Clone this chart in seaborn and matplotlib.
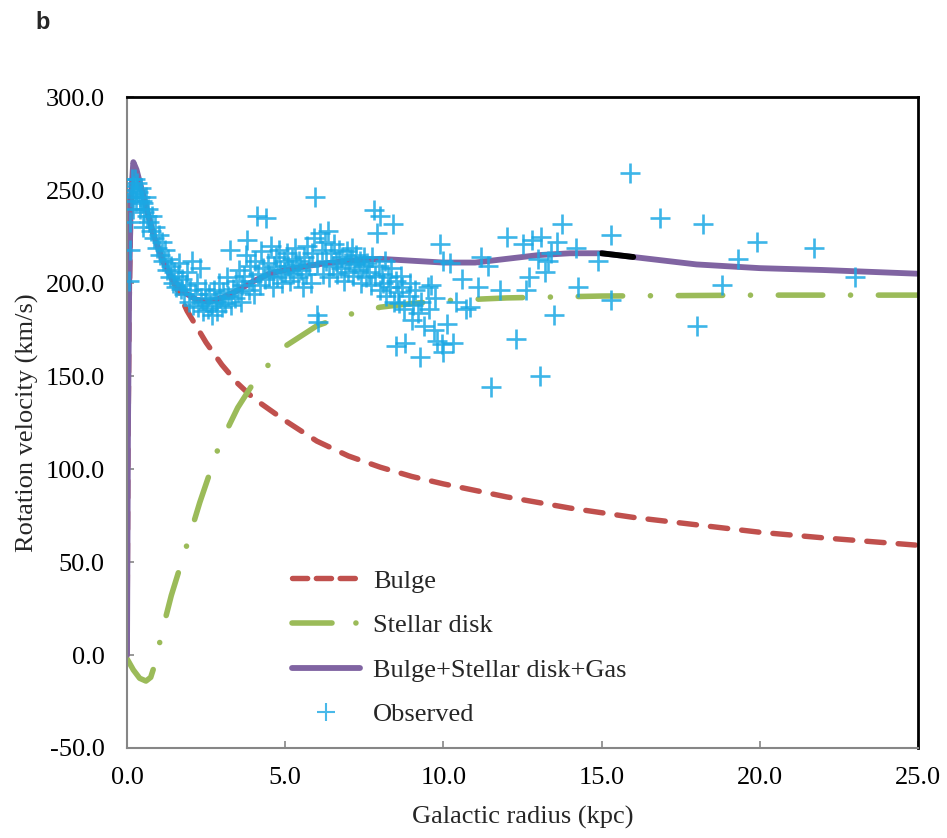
import matplotlib
matplotlib.use("Agg")
import matplotlib.pyplot as plt
import seaborn as sns
from matplotlib.lines import Line2D

# ─────────────────────────────────────────
# DATA
# ─────────────────────────────────────────
bulge_r = [0.0, 0.03, 0.07, 0.12, 0.2, 0.3, 0.5, 0.8, 1.0, 1.3, 1.6, 1.9, 2.5, 3.0, 3.5,
           4.0, 5.0, 6.0, 7.0, 8.0, 9.0, 10.0, 12.0, 14.0, 16.0, 18.0, 20.0, 22.0, 25.0]
bulge_v = [0.0, 110, 190, 240, 260, 258, 248, 228, 218, 206, 196, 185, 168, 156, 146,
           138, 126, 115, 107, 101, 96, 92, 85, 79, 74, 70, 66, 63, 59]

disk_r = [0.0, 0.2, 0.4, 0.6, 0.75, 0.9, 1.1, 1.4, 1.8, 2.3, 2.9, 3.5, 4.1, 5.0,
          6.0, 7.0, 8.0, 9.0, 10.0, 12.0, 15.0, 20.0, 25.0]
disk_v = [-2, -8, -12.5, -14, -12, -4, 12, 32, 54, 82, 112, 133, 149, 166,
          177, 183, 187, 189, 190.5, 192, 193, 193.5, 193.5]

total_r = [0.0, 0.03, 0.07, 0.12, 0.2, 0.3, 0.5, 0.8, 1.1, 1.4, 1.8, 2.2, 2.6, 3.0, 3.5,
           4.0, 4.5, 5.0, 6.0, 7.0, 8.0, 9.0, 10.0, 11.0, 12.0, 13.0, 14.0, 15.0, 16.0,
           17.0, 18.0, 19.0, 20.0, 22.0, 25.0]
total_v = [0.0, 120, 200, 245, 265, 261, 248, 228, 213, 203, 195, 191, 190, 192, 196,
           201, 205, 207, 210, 212, 213, 212, 211, 211, 213, 215, 216, 216, 214,
           212, 210, 209, 208, 207, 205]

obs_r = [0.05, 0.08, 0.1, 0.12, 0.15, 0.2, 0.22, 0.25, 0.28, 0.3, 0.18,
         0.33, 0.36, 0.4, 0.42, 0.45, 0.48, 0.5, 0.52, 0.55, 0.6, 0.62, 0.66, 0.7,
         0.75, 0.8, 0.85, 0.9, 0.95, 1.0, 1.05, 1.1, 1.15, 1.2,
         1.25, 1.3, 1.35, 1.4, 1.45, 1.5, 1.55, 1.6, 1.65, 1.7, 1.75, 1.8,
         1.85, 1.9, 1.95, 2.0, 2.05, 2.1, 2.15, 2.2, 2.25, 2.3, 2.35, 2.4, 2.45, 2.5, 2.55, 2.6,
         2.65, 2.7, 2.75, 2.8, 2.85, 2.9, 2.95, 3.0, 3.05, 3.1, 3.15, 3.2, 3.25, 3.3, 3.35,
         3.4, 3.45, 3.5, 3.55, 3.6, 3.65, 3.7, 3.75, 3.8, 3.85, 3.9, 3.95, 4.0, 4.05, 4.1,
         4.15, 4.2, 4.25, 4.3, 4.35, 4.4,
         4.45, 4.5, 4.55, 4.6, 4.65, 4.7, 4.75, 4.8, 4.85, 4.9, 4.95, 5.0, 5.05, 5.1, 5.15,
         5.2, 5.25, 5.3, 5.35, 5.4, 5.45, 5.5, 5.55,
         5.6, 5.65, 5.7, 5.75, 5.8, 5.85, 5.9, 5.95, 6.0, 6.02, 6.05, 6.1, 6.15, 6.2, 6.25,
         6.3, 6.35, 6.4, 6.45, 6.5, 6.55,
         6.6, 6.65, 6.7, 6.75, 6.8, 6.85, 6.9, 6.95, 7.0, 7.05, 7.1, 7.15, 7.2, 7.25, 7.3,
         7.35, 7.4, 7.45, 7.5, 7.55,
         7.6, 7.65, 7.7, 7.75, 7.8, 7.85, 7.9, 7.95, 8.0, 8.0, 8.05, 8.1, 8.15, 8.2, 8.25,
         8.3, 8.35, 8.4, 8.45, 8.5,
         8.55, 8.6, 8.65, 8.7, 8.75, 8.8, 8.5, 8.9, 8.95, 9.0, 9.05, 9.1, 9.2, 9.26, 9.3,
         9.4, 9.5, 9.55, 9.6, 9.7, 9.75, 9.8, 9.9, 9.95, 10.0, 10.0, 10.1, 10.2, 10.3, 10.4,
         10.6, 10.7, 10.85, 11.1, 11.2, 11.4, 11.5,
         11.8, 12.0, 12.3, 12.5, 12.6, 12.7, 12.8, 13.0, 13.05, 13.1, 13.2, 13.3, 13.4, 13.5,
         13.6, 13.75, 14.2, 14.25, 14.9, 15.3, 15.3, 15.9,
         16.85, 18.0, 18.2, 18.8, 19.3, 19.9, 21.7, 23.0]
obs_v = [201, 218, 233, 246, 256, 252, 248, 256, 250, 244, 240,
         254, 249, 246, 240, 251, 244, 230, 243, 238, 246, 236, 240, 233,
         228, 236, 224, 230, 219, 226, 215, 222, 212, 218,
         207, 213, 203, 209, 200, 206, 198, 204, 211, 197, 202, 194,
         199, 206, 190, 196, 212, 188, 194, 200, 187, 208, 192, 185, 197, 190, 186, 194,
         188, 183, 196, 190, 185, 200, 192, 187, 195, 189, 203, 193, 218, 188, 197,
         192, 201, 195, 207, 190, 199, 204, 215, 223, 196, 209, 201, 194, 212, 236,
         205, 199, 217, 208, 202, 235,
         211, 204, 220, 198, 209, 214, 203, 218, 207, 200, 212, 206, 216, 209, 201,
         213, 205, 219, 210, 203, 212, 207, 198,
         214, 205, 220, 209, 200, 216, 224, 246, 211, 183, 179, 227, 218, 205, 222,
         212, 228, 203, 216, 209, 221,
         212, 205, 218, 208, 214, 201, 211, 217, 206, 213, 219, 204, 210, 215, 207,
         212, 200, 209, 214, 203,
         211, 206, 199, 214, 239, 204, 227, 209, 236, 196, 205, 200, 212, 193, 203,
         198, 208, 232, 190, 201,
         195, 189, 204, 198, 186, 168, 166, 193, 200, 180, 188, 196, 184, 160, 190,
         177, 198, 186, 199, 175, 192, 169, 221, 167, 163, 212, 178, 211, 168, 190,
         202, 186, 187, 198, 214, 209, 144,
         196, 225, 170, 221, 196, 203, 223, 213, 150, 225, 206, 212, 216, 183,
         222, 232, 219, 198, 212, 226, 191, 259,
         235, 177, 232, 199, 213, 222, 219, 203]

# short black piece on the total curve
black_r = [15.0, 16.0]
black_v = [216, 214]

x_ticks = [0, 5, 10, 15, 20, 25]
y_ticks = [-50, 0, 50, 100, 150, 200, 250, 300]

# ─────────────────────────────────────────
# STYLE
# ─────────────────────────────────────────
sns.set_theme(style="white")
plt.rcParams["font.family"] = ["Liberation Serif", "DejaVu Serif"]
plt.rcParams["axes.unicode_minus"] = False

c_bulge = "#C0504D"
c_disk = "#9BBB59"
c_total = "#8064A2"
c_obs = "#1BA8E4"

fig = plt.figure(figsize=(9.47, 8.38), dpi=100)
ax = fig.add_axes([0.1341, 0.1074, 0.8353, 0.7768])

sns.lineplot(x=bulge_r, y=bulge_v, ax=ax, color=c_bulge, linewidth=3.9,
             sort=False, estimator=None)
ax.lines[-1].set_linestyle((0, (3.2, 2.6)))
ax.lines[-1].set_dash_capstyle("round")

sns.lineplot(x=disk_r, y=disk_v, ax=ax, color=c_disk, linewidth=4.0,
             sort=False, estimator=None)
ax.lines[-1].set_linestyle((0, (8, 5, 0.01, 5)))
ax.lines[-1].set_dash_capstyle("round")

sns.lineplot(x=total_r, y=total_v, ax=ax, color=c_total, linewidth=4.2,
             sort=False, estimator=None)
sns.lineplot(x=black_r, y=black_v, ax=ax, color="black", linewidth=4.2,
             sort=False, estimator=None)

sns.scatterplot(x=obs_r, y=obs_v, ax=ax, marker="+", s=220, linewidth=1.9,
                color=c_obs, alpha=0.85, zorder=4)

ax.set_xlim(0, 25)
ax.set_ylim(-50, 300)
ax.set_xticks(x_ticks)
ax.set_xticklabels([f"{t:.1f}" for t in x_ticks])
ax.set_yticks(y_ticks)
ax.set_yticklabels([f"{t:.1f}" for t in y_ticks])
ax.tick_params(axis="both", direction="in", length=5, width=1.2, color="#868686",
               labelsize=19, labelcolor="black")
ax.tick_params(axis="y", pad=16)
ax.tick_params(axis="x", pad=14)
ax.tick_params(left=True, bottom=True)

for side in ["left", "bottom"]:
    ax.spines[side].set_color("#868686")
    ax.spines[side].set_linewidth(1.5)
for side in ["top", "right"]:
    ax.spines[side].set_color("black")
    ax.spines[side].set_linewidth(2)

ax.set_xlabel("Galactic radius (kpc)", fontsize=19, labelpad=12)
ax.set_ylabel("Rotation velocity (km/s)", fontsize=19, labelpad=5)

handles = [
    Line2D([], [], color=c_bulge, linewidth=3.9, linestyle=(0, (2.8, 1.6)),
           dash_capstyle="round"),
    Line2D([], [], color=c_disk, linewidth=4.0, linestyle=(0, (7.2, 4.3, 0.01, 5)),
           dash_capstyle="round"),
    Line2D([], [], color=c_total, linewidth=4.2),
    Line2D([], [], color=c_obs, marker="+", linestyle="none", markersize=13,
           markeredgewidth=1.5, alpha=0.8),
]
labels = ["Bulge", "Stellar disk", "Bulge+Stellar disk+Gas", "Observed"]
ax.legend(handles, labels, loc="center left", bbox_to_anchor=(0.208, 0.154),
          frameon=False, fontsize=19, handlelength=2.6, handletextpad=0.5,
          labelspacing=0.8, borderpad=0, borderaxespad=0)

fig.text(0.037, 0.987, "b", fontsize=17, fontweight="bold",
         family="Liberation Sans", va="top", ha="left")

fig.savefig("out.png", dpi=100)
plt.close(fig)
